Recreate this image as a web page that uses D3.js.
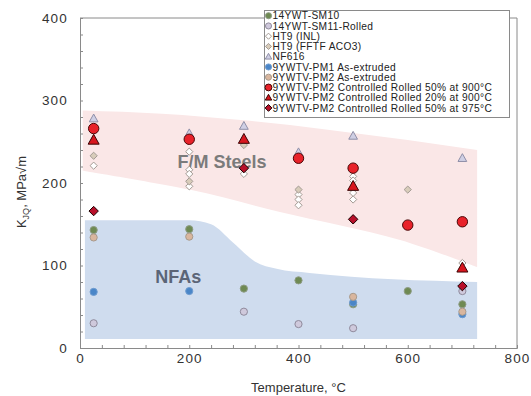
<!DOCTYPE html>
<html>
<head>
<meta charset="utf-8">
<script src="https://cdn.jsdelivr.net/npm/d3@7"></script>
<style>
  body { margin: 0; background: #fff; }
  text { font-family: "Liberation Sans", Arial, sans-serif; }
</style>
</head>
<body>
<div class="canvas"></div>
<script>
// values: [temperature °C, KJQ MPa√m]
const sm10 = [[25,143],[200,144],[300,72],[400,82],[500,53],[600,69],[700,53]];
const sm11 = [[25,30],[300,44],[400,29],[500,24],[700,69]];
const ht9Inl = [[25,221],[200,238],[200,216],[200,211],[200,196],[300,211],[400,186],[400,180],[400,173],[500,208],[500,203],[500,188],[500,180],[700,103]];
const ht9Fftf = [[25,233],[200,202],[300,246],[400,192],[600,192]];
const nf616 = [[25,278],[200,260],[300,269],[400,237],[500,257],[700,230]];
const pm1Ext = [[25,68],[200,69],[500,55],[700,41]];
const pm2Ext = [[25,134],[200,135],[500,62],[700,44]];
const cr50at900 = [[25,266],[200,253],[400,230],[500,218],[600,149],[700,153]];
const cr20at900 = [[25,252],[300,253],[500,196],[700,97]];
const cr50at975 = [[25,166],[300,218],[500,156],[700,75]];

// shaded bands
const steelTop = [[5,288],[150,284],[300,276],[450,265],[600,252],[727,240]];
const steelBottom = [[5,215],[200,192],[366,165],[586,131],[727,98]];
const nfaTop = [[9,155],[200,155],[240,150],[280,128],[320,105],[360,96],[420,91],[727,80]];
const nfaBottom = [[9,11],[727,11]];

const xTicks = [0, 200, 400, 600, 800];
const yTicks = [0, 100, 200, 300, 400];

const series = [
  {name: '14YWT-SM10', data: sm10, shape: 'circle', fill: '#6f8a53', stroke: '#8e9c84', size: 3.6},
  {name: '14YWT-SM11-Rolled', data: sm11, shape: 'circle', fill: '#cfc9dc', stroke: '#8f8a9c', size: 3.6},
  {name: 'HT9 (INL)', data: ht9Inl, shape: 'diamond', fill: '#ffffff', stroke: '#a39b94', size: 3.6},
  {name: 'HT9 (FFTF ACO3)', data: ht9Fftf, shape: 'diamond', fill: '#d8ccba', stroke: '#a39b94', size: 3.6},
  {name: 'NF616', data: nf616, shape: 'triangle', fill: '#cfcfe4', stroke: '#8f8fa8', size: 4.6},
  {name: '9YWTV-PM1 As-extruded', data: pm1Ext, shape: 'circle', fill: '#4a86c8', stroke: '#6f9cd0', size: 3.6},
  {name: '9YWTV-PM2 As-extruded', data: pm2Ext, shape: 'circle', fill: '#d9b69e', stroke: '#a89a8c', size: 3.6},
  {name: '9YWTV-PM2 Controlled Rolled 50% at 900°C', data: cr50at900, shape: 'circle', fill: '#e8222a', stroke: '#4a0606', size: 5.2},
  {name: '9YWTV-PM2 Controlled Rolled 20% at 900°C', data: cr20at900, shape: 'triangle', fill: '#d8161e', stroke: '#3a0404', size: 5.8},
  {name: '9YWTV-PM2 Controlled Rolled 50% at 975°C', data: cr50at975, shape: 'diamond', fill: '#b8102a', stroke: '#1a0000', size: 4.7}
];

const W = 531, H = 396;
const x = d3.scaleLinear().domain([0, 800]).range([80, 517]);
const y = d3.scaleLinear().domain([0, 400]).range([348, 18]);

const svg = d3.select('.canvas').append('svg')
    .attr('width', W)
    .attr('height', H);

svg.append('rect').attr('width', W).attr('height', H).attr('fill', '#fff');

// bands
const topLine = d3.line().x(d => x(d[0])).y(d => y(d[1])).curve(d3.curveMonotoneX);
const botLine = d3.line().x(d => x(d[0])).y(d => y(d[1])).curve(d3.curveCatmullRom);
const bandPath = (top, bottom) =>
    topLine(top) + 'L' + botLine(bottom.slice().reverse()).slice(1) + 'Z';

svg.append('path')
    .attr('d', bandPath(steelTop, steelBottom))
    .attr('fill', '#fae7e7');
svg.append('path')
    .attr('d', bandPath(nfaTop, nfaBottom))
    .attr('fill', '#cfdcee');

svg.append('text')
    .attr('x', x(260)).attr('y', y(218))
    .attr('text-anchor', 'middle')
    .attr('font-size', 18).attr('font-weight', 'bold')
    .attr('fill', '#7b7b7b')
    .text('F/M Steels');
svg.append('text')
    .attr('x', x(180)).attr('y', y(79))
    .attr('text-anchor', 'middle')
    .attr('font-size', 18).attr('font-weight', 'bold')
    .attr('fill', '#5b6577')
    .text('NFAs');

// axes
const axisColor = '#8a8a8a';
const yAxis = svg.append('g')
    .attr('transform', `translate(${x(0)},0)`)
    .call(d3.axisLeft(y).tickValues(d3.range(0, 401, 20)).tickSize(-3).tickPadding(12)
        .tickFormat(d => yTicks.includes(d) ? d : ''));
const xAxis = svg.append('g')
    .attr('transform', `translate(0,${y(0)})`)
    .call(d3.axisBottom(x).tickValues(d3.range(0, 801, 40)).tickSize(-3).tickPadding(5)
        .tickFormat(d => xTicks.includes(d) ? d : ''));

[xAxis, yAxis].forEach(g => {
  g.select('.domain').attr('stroke', axisColor);
  g.selectAll('.tick line').attr('stroke', axisColor);
  g.selectAll('.tick text')
      .attr('font-size', 13.5)
      .attr('letter-spacing', 1.2)
      .attr('fill', '#333')
      .style('font-family', '"Liberation Sans", Arial, sans-serif');
});

// frame top and right
svg.append('line').attr('x1', x(0)).attr('x2', x(800)).attr('y1', y(400)).attr('y2', y(400))
    .attr('stroke', axisColor);
svg.append('line').attr('x1', x(800)).attr('x2', x(800)).attr('y1', y(400)).attr('y2', y(0))
    .attr('stroke', axisColor);

svg.append('text')
    .attr('x', (x(0) + x(800)) / 2).attr('y', 392)
    .attr('text-anchor', 'middle')
    .attr('font-size', 13).attr('fill', '#333')
    .text('Temperature, °C');

const yt = svg.append('text')
    .attr('transform', 'translate(26,192) rotate(-90)')
    .attr('text-anchor', 'middle')
    .attr('font-size', 13).attr('fill', '#333');
yt.append('tspan').text('K');
yt.append('tspan').attr('font-size', 9).attr('dy', 3).text('JQ');
yt.append('tspan').attr('dy', -3).text(', MPa√m');

// markers
function markerPath(shape, s) {
  if (shape === 'triangle') {
    return `M0,${-s}L${s * 0.95},${s * 0.7}L${-s * 0.95},${s * 0.7}Z`;
  }
  if (shape === 'diamond') {
    return `M0,${-s}L${s},0L0,${s}L${-s},0Z`;
  }
  return d3.symbol().type(d3.symbolCircle).size(Math.PI * s * s)();
}

series.forEach(s => {
  svg.append('g').selectAll('path')
      .data(s.data)
      .enter()
        .append('path')
        .attr('d', markerPath(s.shape, s.size))
        .attr('transform', d => `translate(${x(d[0])},${y(d[1])})`)
        .attr('fill', s.fill)
        .attr('stroke', s.stroke)
        .attr('stroke-width', 1);
});

// legend
const legend = svg.append('g');
legend.append('rect')
    .attr('x', 264.5).attr('y', 10.5).attr('width', 245).attr('height', 107)
    .attr('fill', '#fff').attr('stroke', '#8a8a8a');
const items = legend.selectAll('g.item')
    .data(series)
    .enter()
      .append('g')
      .attr('transform', (d, i) => `translate(268.5, ${15.7 + i * 10.25})`);
items.append('path')
    .attr('d', d => markerPath(d.shape, Math.min(d.size, 4) * 0.85))
    .attr('fill', d => d.fill)
    .attr('stroke', d => d.stroke);
items.append('text')
    .attr('x', 4).attr('dy', '0.36em')
    .attr('font-size', 10.2).attr('letter-spacing', 0.35).attr('fill', '#222')
    .text(d => d.name);
</script>
</body>
</html>
